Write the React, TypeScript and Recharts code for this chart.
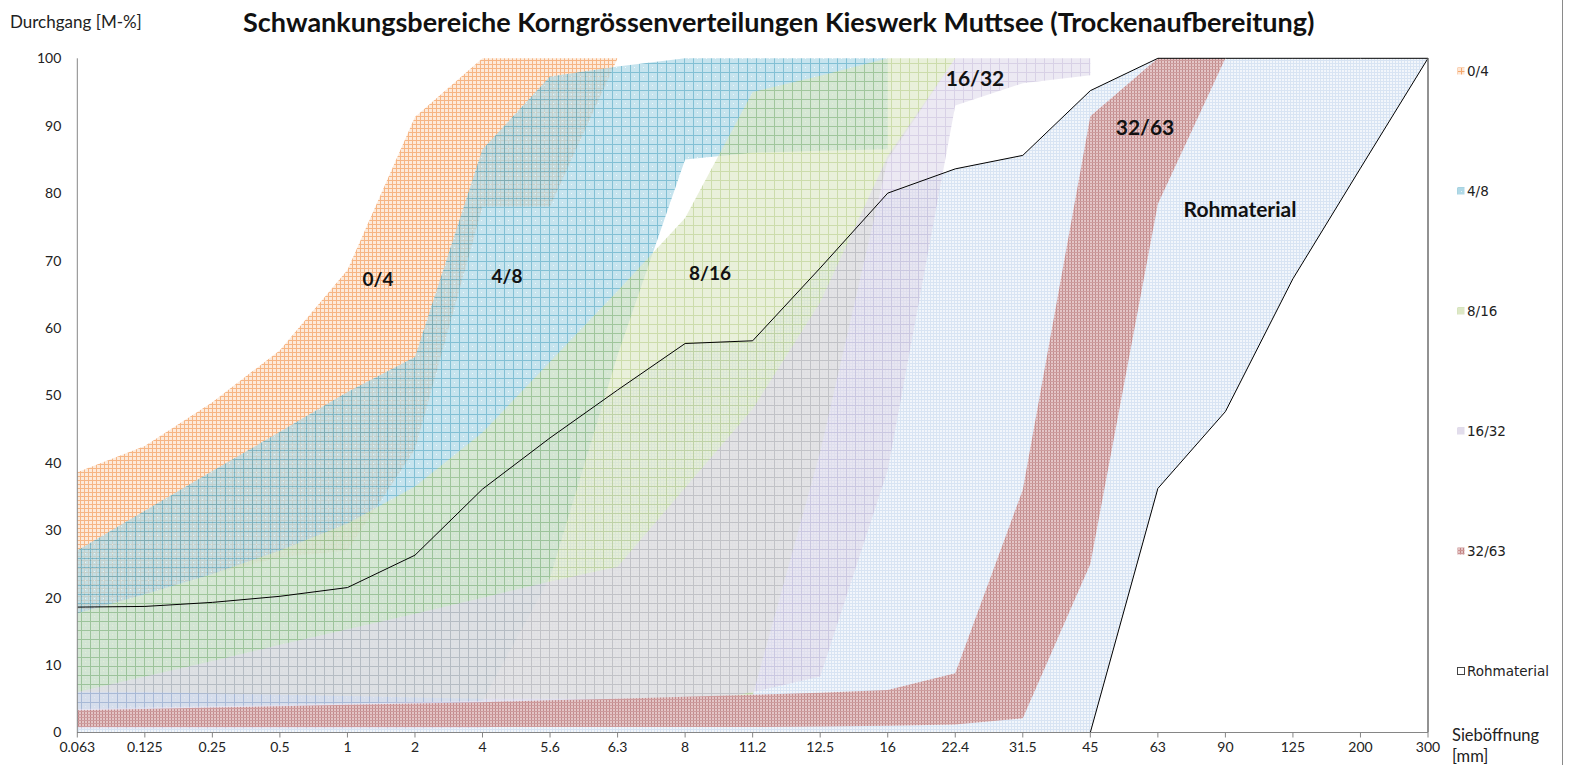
import React from "react";
import { ComposedChart, Area, XAxis, YAxis, ReferenceLine } from "recharts";

// Sieve openings in mm (category axis)
const SIEVES = ["0.063", "0.125", "0.25", "0.5", "1", "2", "4", "5.6", "6.3", "8", "11.2", "12.5", "16", "22.4", "31.5", "45", "63", "90", "125", "200", "300"];

// passing in M-% – lower / upper limit of each product band
const P04_MIN = [17.7, 20.5, 23.5, 26, 27, 42, 78, 78, 100];
const P04_MAX = [38.6, 42.5, 49, 56.7, 68.6, 91.3, 100, 100, 100];

const P48_MIN = [3.5, 3.7, 3.9, 4.1, 4.3, 4.5, 4.7, 23, 56, 85, 86, 86.3, 86.5];
const P48_MAX = [27, 32.9, 38.8, 44.6, 50.5, 55.7, 86.5, 97.3, 98.8, 100, 100, 100, 100];

const P816_MIN = [6, 6, 5.8, 5.6, 5.4, 5.2, 5, 5, 5, 5, 5.5, 41.6, 85, 100];
const P816_MAX = [17.7, 20.5, 23.5, 27, 31, 36.5, 44.5, 55, 65.5, 76.3, 95, 97.4, 100, 100];

const P1632_MIN = [0.6, 0.6, 0.6, 0.6, 0.6, 0.6, 0.7, 1.5, 2.5, 4, 6, 8.3, 38.9, 93, 96.3, 97.5];
const P1632_MAX = [6, 8.3, 10.6, 13, 15.3, 17.6, 20, 22.4, 24.6, 36.3, 48, 63.8, 85.5, 100, 100, 100];

const P3263_MIN = [0.8, 0.8, 0.8, 0.8, 0.8, 0.8, 0.8, 0.8, 0.8, 0.8, 0.8, 0.9, 1, 1.2, 2.1, 25, 78.4, 100];
const P3263_MAX = [3.3, 3.5, 3.7, 3.9, 4.1, 4.3, 4.5, 4.8, 5, 5.3, 5.6, 5.9, 6.3, 8.8, 36, 91.4, 100, 100];

const ROH_MIN = [0, 0, 0, 0, 0, 0, 0, 0, 0, 0, 0, 0, 0, 0, 0, 0, 36.2, 47.6, 67.3, 83.7, 100];
const ROH_MAX = [18.6, 18.7, 19.3, 20.2, 21.5, 26.3, 36.1, 43.7, 50.8, 57.7, 58.1, 68.9, 80, 83.6, 85.6, 95.2, 100, 100, 100, 100, 100];

const Y_TICKS = [0, 10, 20, 30, 40, 50, 60, 70, 80, 90, 100];

const range = (lo: number[], hi: number[], i: number) => (i < hi.length ? [lo[i], hi[i]] : null);

const data = SIEVES.map((x, i) => ({
  x,
  p04: range(P04_MIN, P04_MAX, i),
  p48: range(P48_MIN, P48_MAX, i),
  p816: range(P816_MIN, P816_MAX, i),
  p1632: range(P1632_MIN, P1632_MAX, i),
  p3263: range(P3263_MIN, P3263_MAX, i),
  roh: [ROH_MIN[i], ROH_MAX[i]],
}));

const LEGEND = [
  { name: "0/4", fill: "url(#pat04)", y: 71 },
  { name: "4/8", fill: "url(#pat48)", y: 191 },
  { name: "8/16", fill: "url(#pat816)", y: 311 },
  { name: "16/32", fill: "url(#pat1632)", y: 431 },
  { name: "32/63", fill: "url(#pat3263)", y: 551 },
  { name: "Rohmaterial", fill: "#fff", y: 671 },
];

const LABELS = [
  { text: "0/4", x: 378, y: 278, size: 19 },
  { text: "4/8", x: 507, y: 275, size: 19 },
  { text: "8/16", x: 710, y: 272, size: 19 },
  { text: "16/32", x: 975, y: 77, size: 21 },
  { text: "32/63", x: 1145, y: 126, size: 21 },
  { text: "Rohmaterial", x: 1240, y: 208, size: 21 },
];

const font = "Lato, 'Open Sans', sans-serif";

function Patterns() {
  return (
    <defs>
      <pattern id="pat04" width="4" height="4" patternUnits="userSpaceOnUse">
        <rect width="4" height="4" fill="#fde6d4" />
        <path d="M0 0.5H4M0.5 0V4" stroke="#f5a86e" strokeWidth="1" />
      </pattern>
      <pattern id="pat48" width="9" height="9" patternUnits="userSpaceOnUse">
        <rect width="9" height="9" fill="#b0d9e7" />
        <path d="M0 0.5H9M0.5 0V9" stroke="#52a8c4" strokeWidth="1" />
        <rect x="4" y="4" width="1" height="1" fill="#e8f6fa" />
      </pattern>
      <pattern id="pat816" width="9" height="9" patternUnits="userSpaceOnUse">
        <rect width="9" height="9" fill="#dde8c6" />
        <path d="M0 0.5H9M0.5 0V9" stroke="#b0c97e" strokeWidth="1" />
      </pattern>
      <pattern id="pat1632" width="9" height="9" patternUnits="userSpaceOnUse">
        <rect width="9" height="9" fill="#e2ddec" />
        <path d="M0 0.5H9M0.5 0V9" stroke="#c3b9d8" strokeWidth="1" />
      </pattern>
      <pattern id="pat3263" width="3" height="3" patternUnits="userSpaceOnUse">
        <rect width="3" height="3" fill="#e3c1c1" />
        <rect width="1" height="3" fill="#c08282" />
        <rect width="3" height="1" fill="#cc9595" />
      </pattern>
      <pattern id="patRoh" width="3" height="3" patternUnits="userSpaceOnUse">
        <rect width="3" height="3" fill="#f2f6fb" />
        <path d="M0 0.5H3M0.5 0V3" stroke="#d8e4f3" strokeWidth="1" />
      </pattern>
    </defs>
  );
}

export default function App() {
  return (
    <div style={{ position: "absolute", left: 0, top: 0, width: 1569, height: 765, background: "#fff", fontFamily: font, color: "#222" }}>
      <div style={{ position: "absolute", left: 243, top: 6, lineHeight: "32px", fontSize: 27, fontWeight: 700, color: "#111", whiteSpace: "nowrap" }}>
        Schwankungsbereiche Korngrössenverteilungen Kieswerk Muttsee (Trockenaufbereitung)
      </div>
      <div style={{ position: "absolute", left: 10, top: 11, fontSize: 17, lineHeight: "22px" }}>Durchgang [M-%]</div>
      <div style={{ position: "absolute", left: 1452, top: 725, fontSize: 16.5, lineHeight: "21px" }}>
        Sieböffnung
        <br />
        [mm]
      </div>
      <div style={{ position: "absolute", left: 1562, top: 0, width: 1, height: 765, background: "#8a8a8a" }} />

      <ComposedChart width={1569} height={765} data={data} margin={{ top: 58.3, right: 141, bottom: 2.5, left: 0 }}>
        <Patterns />
        <XAxis
          dataKey="x"
          interval={0}
          height={30}
          axisLine={{ stroke: "#868686" }}
          tickLine={{ stroke: "#868686" }}
          tickSize={5}
          tickMargin={5}
          tick={{ fontSize: 14, fill: "#222", fontFamily: font }}
        />
        <YAxis
          domain={[0, 100]}
          ticks={Y_TICKS}
          width={77.3}
          axisLine={{ stroke: "#868686" }}
          tickLine={false}
          tickSize={0}
          tickMargin={16}
          tick={{ fontSize: 14, fill: "#222", fontFamily: font }}
        />
        <Area key="rohFill" dataKey="roh" type="linear" fill="url(#patRoh)" fillOpacity={1} stroke="none" isAnimationActive={false} />
        <Area dataKey="p04" type="linear" fill="url(#pat04)" fillOpacity={0.85} stroke="none" isAnimationActive={false} />
        <Area dataKey="p48" type="linear" fill="url(#pat48)" fillOpacity={0.72} stroke="none" isAnimationActive={false} />
        <Area dataKey="p816" type="linear" fill="url(#pat816)" fillOpacity={0.65} stroke="none" isAnimationActive={false} />
        <Area dataKey="p1632" type="linear" fill="url(#pat1632)" fillOpacity={0.65} stroke="none" isAnimationActive={false} />
        <Area dataKey="p3263" type="linear" fill="url(#pat3263)" fillOpacity={0.9} stroke="none" isAnimationActive={false} />
        <Area key="rohLine" name="Rohmaterial" dataKey="roh" type="linear" fill="none" stroke="#000" strokeWidth={1} isAnimationActive={false} />
        <ReferenceLine x="300" stroke="#6e6e6e" strokeWidth={1.5} />
      </ComposedChart>

      {LABELS.map((l) => (
        <div key={l.text} style={{ position: "absolute", left: l.x, top: l.y, transform: "translate(-50%, -50%)", fontSize: l.size, fontWeight: 700, color: "#111", whiteSpace: "nowrap" }}>
          {l.text}
        </div>
      ))}

      <svg width={0} height={0} style={{ position: "absolute" }}>
        <Patterns />
      </svg>
      {LEGEND.map((l) => (
        <div key={l.name} style={{ position: "absolute", left: 1457, top: l.y - 9, height: 18, display: "flex", alignItems: "center", gap: 2, fontFamily: "'DejaVu Sans', sans-serif", fontSize: 13.5, color: "#222" }}>
          <svg width={8} height={8}>
            <rect x={0.5} y={0.5} width={7} height={7} fill={l.fill} stroke={l.name === "Rohmaterial" ? "#444" : "none"} />
          </svg>
          {l.name}
        </div>
      ))}
    </div>
  );
}
